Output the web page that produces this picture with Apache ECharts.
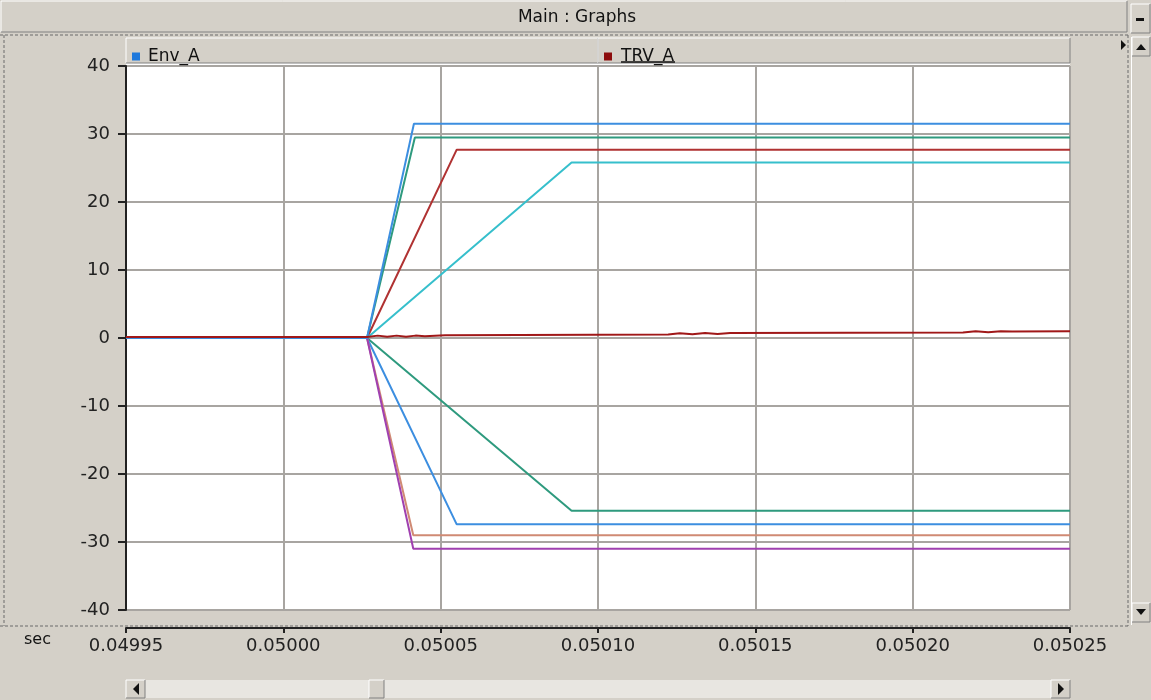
<!DOCTYPE html>
<html>
<head>
<meta charset="utf-8">
<title>Main : Graphs</title>
<script src="https://cdn.jsdelivr.net/npm/echarts@6/dist/echarts.min.js"></script>
<style>
  html, body { margin: 0; padding: 0; background: #d4d0c8; }
  #chart { width: 1151px; height: 700px; }
</style>
</head>
<body>
<div id="chart"></div>
<script>
// time axis (sec) and y ticks
const xTicks = [0.04995, 0.05000, 0.05005, 0.05010, 0.05015, 0.05020, 0.05025];
const yTicks = [-40, -30, -20, -10, 0, 10, 20, 30, 40];

// Env_A (blue, rising)
const envTime = [0.04995, 0.0500266, 0.0500415, 0.05025];
const envA = [0, 0, 31.5, 31.5];

// TRV_A (dark red, near zero with small ripple)
const trvTime = [0.04995, 0.0500266, 0.050030, 0.050033, 0.050036, 0.050039, 0.050042, 0.050045,
  0.0500514, 0.0501223, 0.050126, 0.050130, 0.050134, 0.050138, 0.050142,
  0.050216, 0.050220, 0.050224, 0.050228, 0.0502316, 0.05025];
const trvA = [0.15, 0.15, 0.35, 0.2, 0.35, 0.2, 0.35, 0.25,
  0.4, 0.5, 0.7, 0.55, 0.75, 0.6, 0.75,
  0.8, 1.0, 0.85, 1.0, 0.95, 1.0];

// other traces
const greenUpTime = [0.04995, 0.0500266, 0.0500418, 0.05025];
const greenUp = [0, 0, 29.5, 29.5];
const redUpTime = [0.04995, 0.0500266, 0.0500551, 0.05025];
const redUp = [0, 0, 27.7, 27.7];
const cyanUpTime = [0.04995, 0.0500266, 0.0500916, 0.05025];
const cyanUp = [0, 0, 25.8, 25.8];
const greenDownTime = [0.04995, 0.0500266, 0.0500916, 0.05025];
const greenDown = [0, 0, -25.4, -25.4];
const blueDownTime = [0.04995, 0.0500266, 0.0500551, 0.05025];
const blueDown = [0, 0, -27.4, -27.4];
const salmonDownTime = [0.04995, 0.0500266, 0.0500413, 0.05025];
const salmonDown = [0, 0, -29.0, -29.0];
const purpleDownTime = [0.04995, 0.0500266, 0.0500413, 0.05025];
const purpleDown = [0, 0, -31.0, -31.0];

function zip(t, v) { return t.map((x, i) => [x, v[i]]); }

function trace(name, color, t, v, z) {
  return {
    name: name,
    type: 'line',
    data: zip(t, v),
    showSymbol: false,
    symbol: 'none',
    z: z,
    lineStyle: { color: color, width: 2 },
    itemStyle: { color: color },
  };
}

const chart = echarts.init(document.getElementById('chart'));

const FONT = 'DejaVu Sans';
const GRAY = '#d4d0c8';
const dash = { stroke: '#6a6a6a', lineWidth: 1, lineDash: [3, 2] };

function raised(x, y, w, h, z) {
  return [
    { type: 'rect', shape: { x: x, y: y, width: w, height: h }, style: { fill: GRAY }, z: z, silent: true },
    { type: 'polyline', shape: { points: [[x, y + h], [x, y], [x + w, y]] }, style: { stroke: '#ffffff', lineWidth: 1, fill: null }, z: z + 1, silent: true },
    { type: 'polyline', shape: { points: [[x + w, y], [x + w, y + h], [x, y + h]] }, style: { stroke: '#808080', lineWidth: 1, fill: null }, z: z + 1, silent: true },
  ];
}

const graphics = [].concat(
  // title bar
  raised(1, 1, 1126, 31, 1),
  [{ type: 'text', x: 577, y: 18, style: { text: 'Main : Graphs', font: '17px ' + FONT, fill: '#111', align: 'center', verticalAlign: 'middle' }, z: 5, silent: true }],
  // minimize button
  raised(1131, 4, 19, 29, 1),
  [{ type: 'rect', shape: { x: 1136, y: 18, width: 8, height: 3 }, style: { fill: '#111' }, z: 5, silent: true }],
  // dashed frame
  [
    { type: 'line', shape: { x1: 0, y1: 35, x2: 1128, y2: 35 }, style: dash, z: 5, silent: true },
    { type: 'line', shape: { x1: 4, y1: 35, x2: 4, y2: 626 }, style: dash, z: 5, silent: true },
    { type: 'line', shape: { x1: 1128, y1: 35, x2: 1128, y2: 626 }, style: dash, z: 5, silent: true },
    { type: 'line', shape: { x1: 0, y1: 626, x2: 1128, y2: 626 }, style: dash, z: 5, silent: true },
  ],
  // legend bar cells
  raised(126, 38, 472, 25, 1),
  raised(598, 38, 472, 25, 1),
  [
    { type: 'line', shape: { x1: 621, y1: 62, x2: 675, y2: 62 }, style: { stroke: '#111', lineWidth: 1.5 }, z: 6, silent: true },
    { type: 'polygon', shape: { points: [[1121, 40], [1126, 45], [1121, 50]] }, style: { fill: '#111' }, z: 5, silent: true },
    // white strip between legend and plot
    { type: 'rect', shape: { x: 126, y: 63, width: 944, height: 4 }, style: { fill: '#ffffff' }, z: 0, silent: true },
  ],
  // vertical scrollbar
  [{ type: 'line', shape: { x1: 1131.5, y1: 37, x2: 1131.5, y2: 625 }, style: { stroke: '#ffffff', lineWidth: 1 }, z: 1, silent: true }],
  raised(1132, 37, 18, 19, 2),
  [{ type: 'polygon', shape: { points: [[1136, 50], [1141, 44], [1146, 50]] }, style: { fill: '#111' }, z: 5, silent: true }],
  raised(1132, 603, 18, 19, 2),
  [{ type: 'polygon', shape: { points: [[1136, 609], [1146, 609], [1141, 615]] }, style: { fill: '#111' }, z: 5, silent: true }],
  // horizontal scrollbar
  [{ type: 'rect', shape: { x: 126, y: 680, width: 944, height: 18 }, style: { fill: '#e8e6e1' }, z: 1, silent: true }],
  raised(126, 680, 19, 18, 2),
  [{ type: 'polygon', shape: { points: [[139, 683], [133, 689], [139, 695]] }, style: { fill: '#111' }, z: 5, silent: true }],
  raised(1051, 680, 19, 18, 2),
  [{ type: 'polygon', shape: { points: [[1058, 683], [1064, 689], [1058, 695]] }, style: { fill: '#111' }, z: 5, silent: true }],
  raised(369, 680, 15, 18, 2),
  // unit label
  [{ type: 'text', x: 24, y: 632, style: { text: 'sec', font: '16px ' + FONT, fill: '#111' }, z: 5, silent: true }]
);

const option = {
  animation: false,
  backgroundColor: GRAY,
  grid: {
    left: 126, right: 81, top: 66, bottom: 90,
    show: true, backgroundColor: '#ffffff', borderWidth: 0,
  },
  legend: [
    {
      data: ['Env_A'], left: 127, top: 43, icon: 'rect', itemWidth: 8, itemHeight: 8, itemGap: 6,
      textStyle: { fontFamily: FONT, fontSize: 17, color: '#111', padding: [0, 0, 0, 3] },
      selectedMode: false,
    },
    {
      data: ['TRV_A'], left: 599, top: 43, icon: 'rect', itemWidth: 8, itemHeight: 8, itemGap: 6,
      textStyle: { fontFamily: FONT, fontSize: 17, color: '#111', padding: [0, 0, 0, 4] },
      selectedMode: false,
    },
  ],
  xAxis: {
    type: 'value',
    min: xTicks[0],
    max: xTicks[xTicks.length - 1],
    interval: 0.00005,
    offset: 18,
    axisLine: { show: true, onZero: false, lineStyle: { color: '#222', width: 2 } },
    axisTick: { show: true, length: 5, lineStyle: { color: '#222', width: 2 } },
    axisLabel: {
      margin: 9, fontFamily: FONT, fontSize: 18, color: '#222',
      formatter: v => v.toFixed(5),
    },
    splitLine: { show: true, lineStyle: { color: '#a8a5a1', width: 2 } },
  },
  yAxis: {
    type: 'value',
    min: yTicks[0],
    max: yTicks[yTicks.length - 1],
    interval: 10,
    axisLine: { show: true, onZero: false, lineStyle: { color: '#222', width: 2 } },
    axisTick: { show: true, length: 8, lineStyle: { color: '#222', width: 2 } },
    axisLabel: { margin: 16, fontFamily: FONT, fontSize: 18, color: '#222' },
    splitLine: { show: true, lineStyle: { color: '#a8a5a1', width: 2 } },
  },
  graphic: { elements: graphics },
  series: [
    trace('Env_A', '#3c8ee0', envTime, envA, 4),
    trace('S2', '#2e9a7e', greenUpTime, greenUp, 3),
    trace('S3', '#b03232', redUpTime, redUp, 3),
    trace('S4', '#36bfcc', cyanUpTime, cyanUp, 3),
    trace('S5', '#2e9a7e', greenDownTime, greenDown, 3),
    trace('S6', '#3c8ee0', blueDownTime, blueDown, 3),
    trace('S7', '#d08a74', salmonDownTime, salmonDown, 3),
    trace('S8', '#a040b0', purpleDownTime, purpleDown, 3),
    trace('TRV_A', '#a01818', trvTime, trvA, 5),
  ],
};
// legend swatch colours are a bit more saturated than the traces
option.series[0].itemStyle.color = '#1e78dc';
option.series[8].itemStyle.color = '#8c0c0c';

chart.setOption(option);
</script>
</body>
</html>
